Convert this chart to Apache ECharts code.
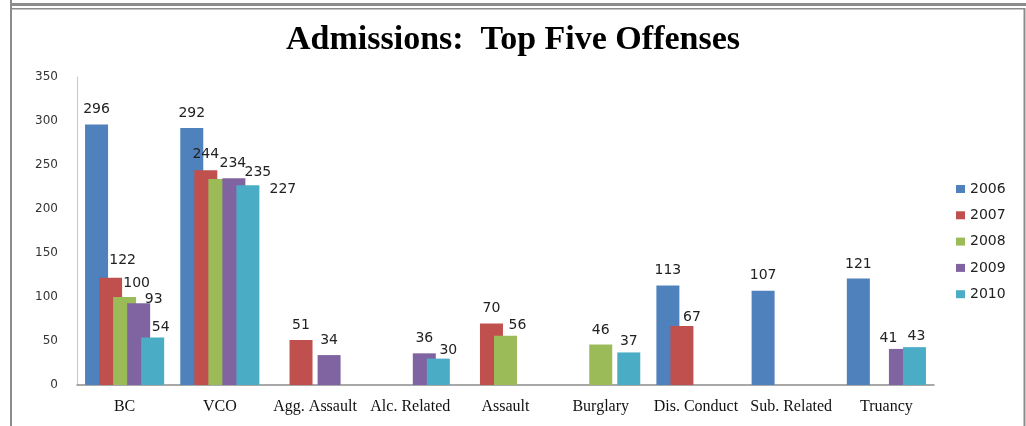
<!DOCTYPE html>
<html>
<head>
<meta charset="utf-8">
<script src="https://cdn.jsdelivr.net/npm/echarts@6/dist/echarts.min.js"></script>
<style>
html,body{margin:0;padding:0;background:#fff;}
#chart{width:1026px;height:426px;}
</style>
</head>
<body>
<div id="chart"></div>
<script>
var categories = ["BC", "VCO", "Agg. Assault", "Alc. Related", "Assault", "Burglary", "Dis. Conduct", "Sub. Related", "Truancy"];
var years = ["2006", "2007", "2008", "2009", "2010"];
var s2006 = [296, 292, null, null, null, null, 113, 107, 121];
var s2007 = [122, 244, 51, null, 70, null, 67, null, null];
var s2008 = [100, 234, null, null, 56, 46, null, null, null];
var s2009 = [93, 235, 34, 36, null, null, null, null, 41];
var s2010 = [54, 227, null, 30, null, 37, null, null, 43];
var yTicks = [0, 50, 100, 150, 200, 250, 300, 350];

var seriesValues = [s2006, s2007, s2008, s2009, s2010];
var colors = ["#4F81BD", "#C0504D", "#9BBB59", "#8064A2", "#4BACC6"];

// label nudges (dx, dy) relative to default position above bar
var labelNudge = {
  "2007|BC": [12, -2], "2008|BC": [12, 1], "2009|BC": [15, 11], "2010|BC": [8, 5],
  "2007|VCO": [0, -1], "2008|VCO": [13, -1], "2009|VCO": [24, 9], "2010|VCO": [35, 19],
  "2010|Alc. Related": [10, 7], "2008|Assault": [12, 5],
  "2008|Burglary": [0, 1], "2010|Burglary": [0, 4],
  "2007|Dis. Conduct": [10, 6],
  "2006|Truancy": [0, 1], "2009|Truancy": [-12, 4], "2010|Truancy": [2, 4]
};

var series = years.map(function (y, si) {
  return {
    name: y,
    type: 'bar',
    barWidth: 23,
    barGap: '-39%',
    itemStyle: { color: colors[si] },
    label: {
      show: true,
      position: 'top',
      distance: 8,
      fontFamily: 'DejaVu Sans',
      fontSize: 14,
      color: '#222'
    },
    data: seriesValues[si].map(function (v, ci) {
      var key = y + '|' + categories[ci];
      var item = { value: v };
      if (labelNudge[key]) item.label = { offset: labelNudge[key] };
      return item;
    })
  };
});

var chart = echarts.init(document.getElementById('chart'), null, { renderer: 'canvas' });
chart.setOption({
  backgroundColor: '#fff',
  animation: false,
  title: {
    text: 'Admissions:  Top Five Offenses',
    left: 'center',
    top: 18,
    textStyle: { fontFamily: 'Liberation Serif', fontWeight: 'bold', fontSize: 34, color: '#000' }
  },
  legend: {
    orient: 'vertical',
    left: 951,
    top: 177,
    itemWidth: 9,
    itemHeight: 8,
    itemGap: 12.3,
    icon: 'rect',
    data: years,
    textStyle: { fontFamily: 'DejaVu Sans', fontSize: 14, color: '#222', lineHeight: 14 }
  },
  grid: { left: 77, right: 92, top: 77, bottom: 41, containLabel: false },
  xAxis: {
    type: 'category',
    data: categories,
    axisLine: { lineStyle: { color: '#8c8c8c', width: 1.5 } },
    axisTick: { show: false },
    axisLabel: {
      interval: 0,
      margin: 14,
      fontFamily: 'Liberation Serif',
      fontSize: 16,
      color: '#111'
    }
  },
  yAxis: {
    type: 'value',
    min: yTicks[0],
    max: yTicks[yTicks.length - 1],
    interval: yTicks[1] - yTicks[0],
    axisLine: { show: true, lineStyle: { color: '#c8c8c8', width: 1 } },
    axisTick: { show: false },
    splitLine: { show: false },
    axisLabel: {
      margin: 19,
      fontFamily: 'DejaVu Sans',
      fontSize: 12,
      color: '#333'
    }
  },
  series: series,
  graphic: [
    { type: 'rect', shape: { x: 10, y: 0, width: 2, height: 426 }, style: { fill: '#8c8c8c' }, silent: true },
    { type: 'rect', shape: { x: 12, y: 3, width: 1014, height: 3 }, style: { fill: '#8c8c8c' }, silent: true },
    { type: 'rect', shape: { x: 12, y: 8, width: 1012, height: 1.5 }, style: { fill: '#8c8c8c' }, silent: true },
    { type: 'rect', shape: { x: 1023.5, y: 8, width: 2, height: 418 }, style: { fill: '#8c8c8c' }, silent: true }
  ]
});
</script>
</body>
</html>
